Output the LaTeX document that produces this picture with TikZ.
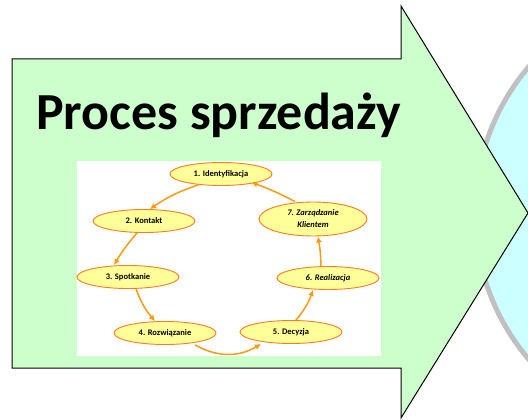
\documentclass[tikz,border=0pt]{standalone}
\usepackage{fontspec}
\setmainfont{Carlito}
\usetikzlibrary{shapes.geometric,arrows.meta}
\definecolor{arrowgreen}{HTML}{CCFFCC}
\definecolor{circcyan}{HTML}{CCFFFF}
\definecolor{circgray}{HTML}{C0C0C0}
\definecolor{ellfill}{HTML}{FFFF99}
\definecolor{ellline}{HTML}{FF7A1A}
\definecolor{flow}{HTML}{FF9A10}
\tikzset{
  stage/.style={ellipse, draw=ellline, fill=ellfill, line width=0.9pt, inner sep=0pt,
    minimum width=102pt, minimum height=23pt, font=\bfseries\fontsize{8.5}{9}\selectfont, align=center},
  flowarrow/.style={draw=flow, line width=1.5pt, -{Latex[length=6pt,width=6pt]}}
}
\begin{document}
\begin{tikzpicture}[x=1pt,y=-1pt]
\useasboundingbox (0,0) rectangle (528,420);
\fill[white] (0,0) rectangle (528,420);
% background circle
\draw[circgray, fill=circcyan, line width=5pt] (701,213) circle[radius=226];
% big arrow
\draw[fill=arrowgreen, line width=1pt, line join=miter]
  (12,59) -- (401,59) -- (401,6) -- (528,213) -- (401,418) -- (401,368) -- (12,368) -- cycle;
\node[anchor=base west, font=\bfseries\fontsize{52}{56}\selectfont, inner sep=0pt] (title) at (36,129) {Proces sprzedaży};
% inner picture
\fill[white] (77,161) rectangle (381,356);
\node[stage] (s1) at (221,174) {1. Identyfikacja};
\node[stage] (s2) at (144,221) {2. Kontakt};
\node[stage] (s3) at (128,277) {3. Spotkanie};
\node[stage] (s4) at (165,333) {4. Rozwiązanie};
\node[stage] (s5) at (291,332) {5. Decyzja};
\node[stage, font=\bfseries\itshape\fontsize{8.5}{9}\selectfont] (s6) at (328,278) {6. Realizacja};
\node[stage, minimum width=108pt, minimum height=34pt, font=\bfseries\itshape\fontsize{8.5}{12}\selectfont] (s7) at (313,219) {7. Zarządzanie\\Klientem};
\draw[flowarrow] ([xshift=15pt,yshift=-2pt]s1.south west) to[bend right=8] ([xshift=6pt]s2.north);
\draw[flowarrow] ([xshift=-7pt]s2.south) to[bend right=5] ([xshift=-14pt]s3.north);
\draw[flowarrow] ([xshift=8pt]s3.south) to[bend right=10] ([xshift=-10pt]s4.north);
\draw[flowarrow] ([xshift=30pt]s4.south) to[bend right=30] ([xshift=-30pt]s5.south);
\draw[flowarrow] ([xshift=5pt]s5.north) to[bend right=10] ([xshift=-15pt]s6.south);
\draw[flowarrow] ([xshift=-7pt]s6.north) to[bend right=4] ([xshift=5pt]s7.south);
\draw[flowarrow] ([xshift=-18pt]s7.north) to[bend right=4] ([xshift=-6pt]s1.south east);
\end{tikzpicture}
\end{document}
